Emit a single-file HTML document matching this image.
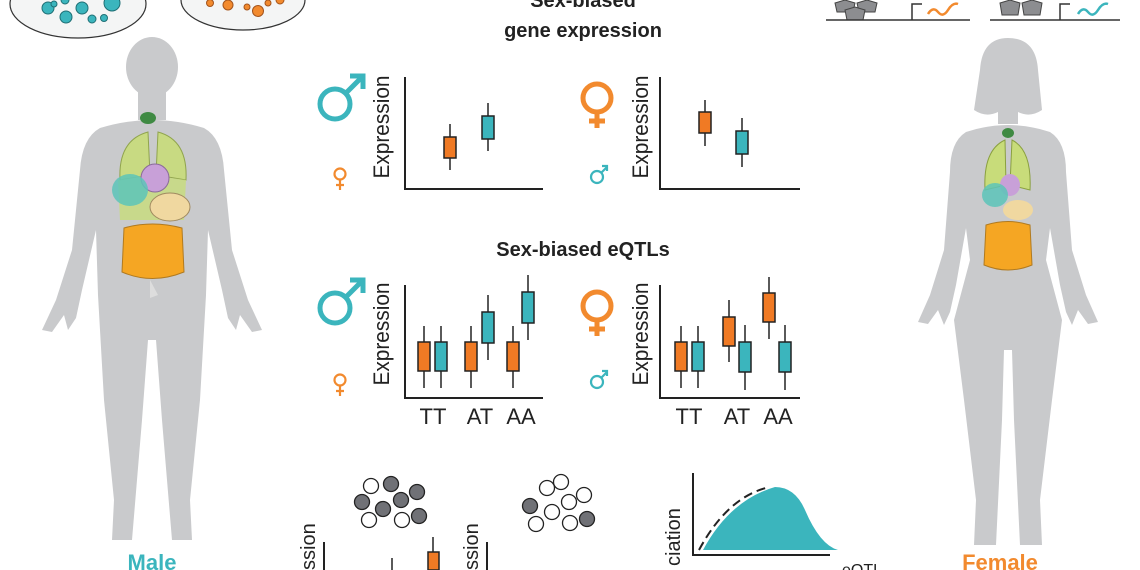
<!DOCTYPE html>
<html><head><style>
html,body{margin:0;padding:0;background:#fff;}
svg{display:block;font-family:"Liberation Sans",sans-serif;}
</style></head><body>
<svg width="1140" height="570" viewBox="0 0 1140 570" xmlns="http://www.w3.org/2000/svg">
<rect width="1140" height="570" fill="#fff"/>
<!-- top ellipses -->
<ellipse cx="78" cy="4" rx="68" ry="34" fill="#f4f5f5" stroke="#333" stroke-width="1.2"/>
<g fill="#3bb5bd" stroke="#1f6f75" stroke-width="1">
<circle cx="48" cy="8" r="6"/><circle cx="66" cy="17" r="6"/><circle cx="82" cy="8" r="6"/><circle cx="92" cy="19" r="4"/><circle cx="104" cy="18" r="3.5"/><circle cx="112" cy="3" r="8"/><circle cx="54" cy="4" r="3"/><circle cx="65" cy="0" r="4"/></g>
<ellipse cx="243" cy="0" rx="62" ry="30" fill="#f4f5f5" stroke="#333" stroke-width="1.2"/>
<g fill="#f28a2e" stroke="#a3531b" stroke-width="1">
<circle cx="210" cy="3" r="3.5"/><circle cx="228" cy="5" r="5"/><circle cx="247" cy="7" r="3"/><circle cx="258" cy="11" r="5.5"/><circle cx="268" cy="3" r="3"/><circle cx="280" cy="0" r="4"/></g>
<!-- top right promoters -->
<g fill="#8c8d90" stroke="#444" stroke-width="1">
<polygon points="835,3 845,0 855,3 853,12 837,12"/><polygon points="857,3 867,0 877,3 875,12 859,12"/><polygon points="845,10 855,7 865,10 863,20 847,20"/>
<polygon points="1000,3 1010,0 1020,3 1018,15 1002,15"/><polygon points="1022,3 1032,0 1042,3 1040,15 1024,15"/></g>
<line x1="826" y1="20" x2="970" y2="20" stroke="#333" stroke-width="1.5"/>
<line x1="990" y1="20" x2="1120" y2="20" stroke="#333" stroke-width="1.5"/>
<path d="M912 20 V4 H922" stroke="#333" stroke-width="1.5" fill="none"/>
<path d="M1060 20 V4 H1070" stroke="#333" stroke-width="1.5" fill="none"/>
<path d="M928 14 q5 -8 10 -2 t10 -2 t10 -6" stroke="#f28a2e" stroke-width="2.5" fill="none"/>
<path d="M1078 14 q5 -8 10 -2 t10 -2 t10 -6" stroke="#3bb5bd" stroke-width="2.5" fill="none"/>
<!-- male silhouette -->
<g fill="#c9cacc">
<ellipse cx="152" cy="67" rx="26" ry="30"/>
<rect x="138" y="90" width="28" height="30"/>
<path d="M100 128 Q152 112 204 128 Q222 138 224 170 L232 250 L248 300 L262 330 L252 332 L240 315 L236 330 L228 318 L222 290 L208 230 L206 295 L200 400 L190 500 L192 540 L172 540 L162 420 L156 340 L148 340 L142 420 L132 540 L112 540 L114 500 L104 400 L98 295 L96 230 L82 290 L76 318 L68 330 L64 315 L52 332 L42 330 L56 300 L72 250 L80 170 Q82 138 100 128Z"/>
</g>
<path d="M120 180 Q118 140 148 132 L150 175 Z" fill="#c8dc7a" stroke="#8aa040" opacity=".9"/>
<path d="M186 180 Q188 140 158 132 L156 175 Z" fill="#c8dc7a" stroke="#8aa040" opacity=".9"/>
<path d="M118 180 L150 175 L186 180 L184 220 L120 220 Z" fill="#c8dc7a" opacity=".8"/>
<ellipse cx="148" cy="118" rx="8" ry="6" fill="#3f8a43"/>
<ellipse cx="155" cy="178" rx="14" ry="14" fill="#c8a0d8" stroke="#8a6a9a"/>
<ellipse cx="130" cy="190" rx="18" ry="16" fill="#5cc4b9" opacity=".85"/>
<ellipse cx="170" cy="207" rx="20" ry="14" fill="#f0d8a0" stroke="#a08a60"/>
<path d="M124 228 Q152 220 182 228 L184 272 Q152 285 122 272 Z" fill="#f5a623" stroke="#b07a20"/>
<path d="M150 280 L158 295 L150 298 Z" fill="#ddd"/>
<text x="152" y="570" font-size="22" font-weight="bold" fill="#3bb5bd" text-anchor="middle">Male</text>
<!-- female silhouette -->
<g fill="#c9cacc">
<path d="M980 70 Q982 38 1008 38 Q1036 38 1038 70 L1042 110 Q1030 118 1018 112 L1018 124 L998 124 L998 112 Q986 118 974 110 Z"/>
<path d="M966 132 Q1008 118 1050 132 Q1066 142 1066 172 L1072 250 L1086 295 L1098 322 L1088 324 L1078 310 L1072 325 L1066 312 L1060 285 L1050 228 L1046 260 L1062 320 L1052 400 L1040 500 L1042 545 L1020 545 L1014 420 L1012 350 L1004 350 L1002 420 L996 545 L974 545 L976 500 L964 400 L954 320 L970 260 L966 228 L956 285 L950 312 L944 325 L938 310 L928 324 L918 322 L930 295 L944 250 L950 172 Q950 142 966 132Z"/>
</g>
<path d="M985 190 Q983 150 1005 140 L1006 185Z" fill="#c8dc7a" stroke="#8aa040"/>
<path d="M1030 190 Q1032 150 1012 140 L1010 185Z" fill="#c8dc7a" stroke="#8aa040"/>
<ellipse cx="1008" cy="133" rx="6" ry="5" fill="#3f8a43"/>
<ellipse cx="1010" cy="185" rx="10" ry="11" fill="#c8a0d8"/>
<ellipse cx="995" cy="195" rx="13" ry="12" fill="#5cc4b9" opacity=".85"/>
<ellipse cx="1018" cy="210" rx="15" ry="10" fill="#f0d8a0"/>
<path d="M986 225 Q1008 218 1030 225 L1032 265 Q1008 275 984 265 Z" fill="#f5a623" stroke="#b07a20"/>
<text x="1000" y="570" font-size="22" font-weight="bold" fill="#f28a2e" text-anchor="middle">Female</text>
<!-- titles -->
<text x="583" y="7" font-size="20" font-weight="bold" fill="#222" text-anchor="middle">Sex-biased</text>
<text x="583" y="37" font-size="20" font-weight="bold" fill="#222" text-anchor="middle">gene expression</text>
<text x="583" y="256" font-size="20" font-weight="bold" fill="#222" text-anchor="middle">Sex-biased eQTLs</text>
<!-- symbols -->
<g fill="none" stroke-width="5" stroke-linecap="butt">
<g stroke="#3bb5bd"><circle cx="335" cy="104" r="15"/><path d="M346 93 L362 77 M350 76 H363 V89"/></g>
<g stroke="#f28a2e"><circle cx="597" cy="98" r="14"/><path d="M597 112 V128 M589 121 H605"/></g>
<g stroke="#3bb5bd"><circle cx="335" cy="308" r="15"/><path d="M346 297 L362 281 M350 280 H363 V293"/></g>
<g stroke="#f28a2e"><circle cx="597" cy="306" r="14"/><path d="M597 320 V336 M589 329 H605"/></g>
</g>
<g fill="none" stroke-width="2.2">
<g stroke="#f28a2e"><circle cx="340" cy="174" r="5.5"/><path d="M340 180 V190 M336 185 H344"/></g>
<g stroke="#3bb5bd"><circle cx="597" cy="177" r="6"/><path d="M601 173 L607 167 M602 166 H607 V171"/></g>
<g stroke="#f28a2e"><circle cx="340" cy="380" r="5.5"/><path d="M340 386 V396 M336 391 H344"/></g>
<g stroke="#3bb5bd"><circle cx="597" cy="382" r="6"/><path d="M601 378 L607 372 M602 371 H607 V376"/></g>
</g>
<!-- axes -->
<g stroke="#222" stroke-width="2" fill="none">
<path d="M405 77 V189 H543"/><path d="M660 77 V189 H800"/>
<path d="M405 285 V398 H543"/><path d="M660 285 V398 H800"/>
</g>
<g font-size="22" fill="#222" font-family="'Liberation Sans Narrow','Liberation Sans',sans-serif">
<text transform="translate(389,127) rotate(-90)" text-anchor="middle" textLength="103" lengthAdjust="spacingAndGlyphs">Expression</text>
<text transform="translate(648,127) rotate(-90)" text-anchor="middle" textLength="103" lengthAdjust="spacingAndGlyphs">Expression</text>
<text transform="translate(389,334) rotate(-90)" text-anchor="middle" textLength="103" lengthAdjust="spacingAndGlyphs">Expression</text>
<text transform="translate(648,334) rotate(-90)" text-anchor="middle" textLength="103" lengthAdjust="spacingAndGlyphs">Expression</text>
<text x="433" y="424" text-anchor="middle">TT</text><text x="480" y="424" text-anchor="middle">AT</text><text x="521" y="424" text-anchor="middle">AA</text>
<text x="689" y="424" text-anchor="middle">TT</text><text x="737" y="424" text-anchor="middle">AT</text><text x="778" y="424" text-anchor="middle">AA</text>
</g>
<!-- boxes -->
<g stroke="#222" stroke-width="1.5">
<line x1="450" y1="124" x2="450" y2="170"/><rect x="444" y="137" width="12" height="21" fill="#f07a24"/>
<line x1="488" y1="103" x2="488" y2="151"/><rect x="482" y="116" width="12" height="23" fill="#3bb5bd"/>
<line x1="705" y1="100" x2="705" y2="146"/><rect x="699" y="112" width="12" height="21" fill="#f07a24"/>
<line x1="742" y1="118" x2="742" y2="167"/><rect x="736" y="131" width="12" height="23" fill="#3bb5bd"/>
<line x1="424" y1="326" x2="424" y2="388"/><rect x="418" y="342" width="12" height="29" fill="#f07a24"/>
<line x1="441" y1="326" x2="441" y2="388"/><rect x="435" y="342" width="12" height="29" fill="#3bb5bd"/>
<line x1="471" y1="326" x2="471" y2="388"/><rect x="465" y="342" width="12" height="29" fill="#f07a24"/>
<line x1="488" y1="295" x2="488" y2="360"/><rect x="482" y="312" width="12" height="31" fill="#3bb5bd"/>
<line x1="513" y1="326" x2="513" y2="388"/><rect x="507" y="342" width="12" height="29" fill="#f07a24"/>
<line x1="528" y1="275" x2="528" y2="340"/><rect x="522" y="292" width="12" height="31" fill="#3bb5bd"/>
<line x1="681" y1="326" x2="681" y2="388"/><rect x="675" y="342" width="12" height="29" fill="#f07a24"/>
<line x1="698" y1="326" x2="698" y2="388"/><rect x="692" y="342" width="12" height="29" fill="#3bb5bd"/>
<line x1="729" y1="300" x2="729" y2="362"/><rect x="723" y="317" width="12" height="29" fill="#f07a24"/>
<line x1="745" y1="325" x2="745" y2="390"/><rect x="739" y="342" width="12" height="30" fill="#3bb5bd"/>
<line x1="769" y1="277" x2="769" y2="339"/><rect x="763" y="293" width="12" height="29" fill="#f07a24"/>
<line x1="785" y1="325" x2="785" y2="390"/><rect x="779" y="342" width="12" height="30" fill="#3bb5bd"/>
</g>
<!-- bottom circles -->
<g stroke="#222" stroke-width="1.3">
<circle cx="371" cy="486" r="7.5" fill="#fff"/><circle cx="391" cy="484" r="7.5" fill="#707176"/><circle cx="362" cy="502" r="7.5" fill="#707176"/><circle cx="383" cy="509" r="7.5" fill="#707176"/>
<circle cx="401" cy="500" r="7.5" fill="#707176"/><circle cx="417" cy="492" r="7.5" fill="#707176"/><circle cx="369" cy="520" r="7.5" fill="#fff"/><circle cx="402" cy="520" r="7.5" fill="#fff"/><circle cx="419" cy="516" r="7.5" fill="#707176"/>
<circle cx="547" cy="488" r="7.5" fill="#fff"/><circle cx="561" cy="482" r="7.5" fill="#fff"/><circle cx="584" cy="495" r="7.5" fill="#fff"/><circle cx="530" cy="506" r="7.5" fill="#707176"/>
<circle cx="552" cy="512" r="7.5" fill="#fff"/><circle cx="569" cy="502" r="7.5" fill="#fff"/><circle cx="536" cy="524" r="7.5" fill="#fff"/><circle cx="570" cy="523" r="7.5" fill="#fff"/><circle cx="587" cy="519" r="7.5" fill="#707176"/>
</g>
<!-- bottom partial charts -->
<g stroke="#222" stroke-width="2" fill="none"><path d="M324 542 V570"/><path d="M487 542 V570"/><path d="M693 473 V555 H830"/></g>
<g font-size="20" fill="#222" font-family="'Liberation Sans Narrow','Liberation Sans',sans-serif">
<text transform="translate(315,570) rotate(-90)">ssion</text>
<text transform="translate(478,570) rotate(-90)">ssion</text>
<text transform="translate(680,566) rotate(-90)">ciation</text>
<text x="842" y="575" font-size="16">eQTL</text>
</g>
<line x1="392" y1="558" x2="392" y2="570" stroke="#222" stroke-width="1.5"/>
<line x1="433" y1="537" x2="433" y2="570" stroke="#222" stroke-width="1.5"/>
<rect x="428" y="552" width="11" height="18" fill="#f07a24" stroke="#222" stroke-width="1.5"/>
<path d="M703 550 Q730 500 775 487 Q795 487 805 510 Q820 545 838 550 Z" fill="#3bb5bd"/>
<path d="M699 550 Q728 496 770 487" fill="none" stroke="#222" stroke-width="2" stroke-dasharray="9,5"/>
</svg>
</body></html>
